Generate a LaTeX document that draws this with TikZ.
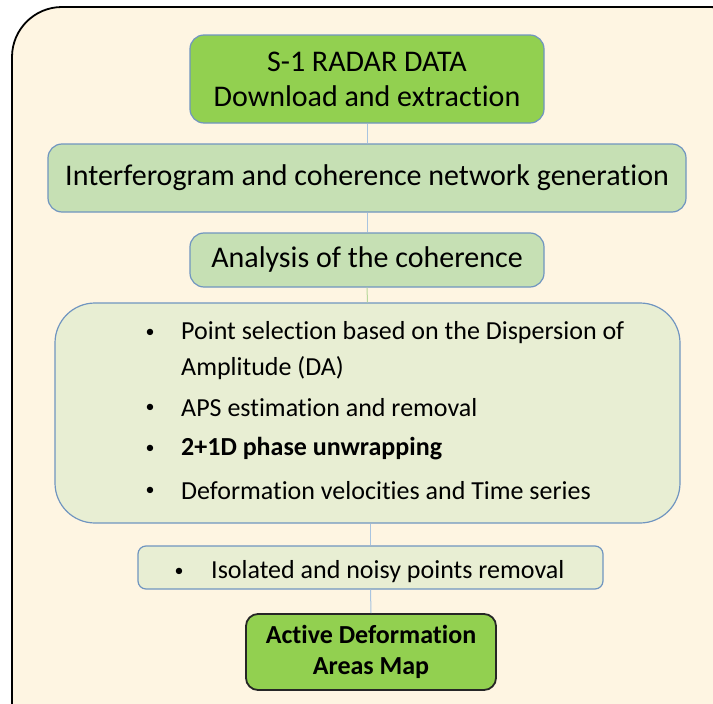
\documentclass[tikz,border=0pt]{standalone}
\usepackage{fontspec}
\setmainfont{Carlito}[Ligatures={NoRequired,NoCommon,NoContextual},Contextuals=NoAlternate]
\definecolor{bg}{HTML}{FEF5E2}
\definecolor{dgreen}{HTML}{92D050}
\definecolor{lgreen}{HTML}{C6E0B4}
\definecolor{pgreen}{HTML}{E8EED3}
\definecolor{bord}{HTML}{7095C0}
\definecolor{lineb}{HTML}{A8C4E0}
\definecolor{lineg}{HTML}{B8D89C}
\begin{document}
\begin{tikzpicture}[x=1pt,y=-1pt,
  box/.style={draw=bord, line width=1.2pt, rounded corners=14pt, align=center, inner sep=0pt},
  big/.style={font=\fontsize{30}{35}\selectfont},
  small/.style={font=\fontsize{26}{26}\selectfont, anchor=west, inner sep=0pt},
  bul/.style={font=\fontsize{18}{18}\selectfont, inner sep=0pt},
  conn/.style={draw=lineb, line width=1pt}]
\useasboundingbox (0,0) rectangle (713,704);
\clip (0,0) rectangle (713,704);
\fill[white] (0,0) rectangle (713,704);
\draw[line width=1.8pt, fill=bg, rounded corners=50pt] (12,7) rectangle (760,760);

\node[box, big, fill=dgreen, minimum width=354pt, minimum height=88pt] (s1) at (367,79) {S-1 RADAR DATA\\Download and extraction};
\node[box, big, fill=lgreen, minimum width=638pt, minimum height=68pt] (ifg) at (367,178) {Interferogram and coherence network generation};
\node[box, big, fill=lgreen, minimum width=354pt, minimum height=54pt] (coh) at (367,260) {Analysis of the coherence};
\node[box, fill=pgreen, rounded corners=40pt, minimum width=625pt, minimum height=220pt] (ps) at (367.5,413) {};
\node[box, fill=pgreen, rounded corners=8pt, minimum width=465pt, minimum height=43pt] (iso) at (370.5,567.5) {};
\node[box, draw=black!85, line width=1.8pt, rounded corners=12pt, fill=dgreen, minimum width=250pt, minimum height=76pt, font=\bfseries\fontsize{26}{31}\selectfont] (adam) at (371,652) {Active Deformation\\Areas Map};

\node[bul] (b1) at (150,333) {•};
\node[small] (t1) at (181,333) {Point selection based on the Dispersion of};
\node[small] (t1b) at (181,368) {Amplitude (DA)};
\node[bul] (b2) at (150,408) {•};
\node[small] (t2) at (181,408) {APS estimation and removal};
\node[bul] (b3) at (150,449) {•};
\node[small, font=\bfseries\fontsize{26}{26}\selectfont] (t3) at (181,449) {2+1D phase unwrapping};
\node[bul] (b4) at (150,491) {•};
\node[small] (t4) at (181,491) {Deformation velocities and Time series};
\node[bul] (b5) at (179,572) {•};
\node[small] (t5) at (211,572) {Isolated and noisy points removal};

\draw[conn] (s1.south) -- (ifg.north);
\draw[conn] (ifg.south) -- (coh.north);
\draw[conn, draw=lineg] (coh.south) -- (ps.north);
\draw[conn] (ps.south -| iso.north) -- (iso.north);
\draw[conn] (iso.south) -- (adam.north);
\end{tikzpicture}
\end{document}
